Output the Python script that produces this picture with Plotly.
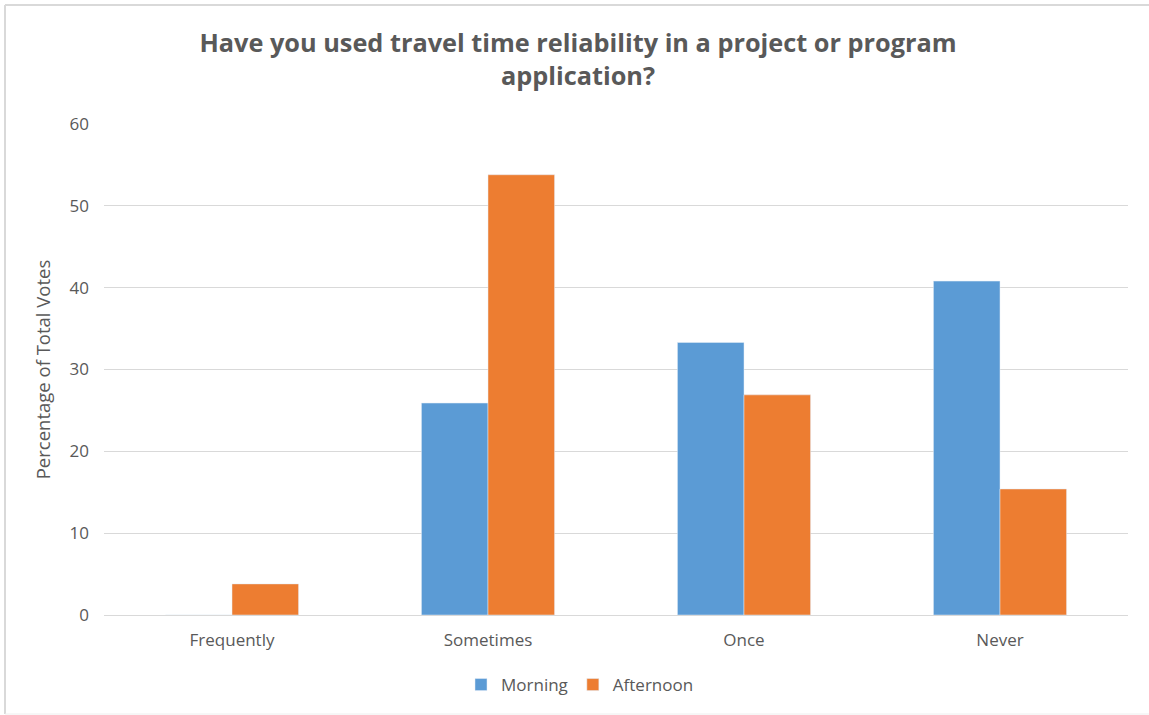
import plotly.graph_objects as go

categories = ["Frequently", "Sometimes", "Once", "Never"]
morning = [0, 25.9, 33.3, 40.8]
afternoon = [3.8, 53.8, 26.9, 15.4]
y_ticks = [0, 10, 20, 30, 40, 50, 60]

W, H = 1149, 715
L, R, T, B = 104, 21, 124, 100
pw, ph = W - L - R, H - T - B

def px_x(p):
    return (p - L) / pw

def px_y(p):
    return (H - B - p) / ph

txt = "#595959"
fnt = "Open Sans, sans-serif"
fig = go.Figure()
fig.add_trace(go.Bar(name="Morning", x=categories, y=morning, marker_color="#5B9BD5"))
fig.add_trace(go.Bar(name="Afternoon", x=categories, y=afternoon, marker_color="#ED7D31"))

fig.update_layout(
    width=W, height=H, autosize=False,
    margin=dict(l=L, r=R, t=T, b=B),
    plot_bgcolor="white", paper_bgcolor="white",
    barmode="group", bargap=0.48, bargroupgap=0,
    font=dict(family=fnt, color=txt, size=17),
    title=dict(
        text="Have you used travel time reliability in a project or program<br>application?",
        x=578 / W, xanchor="center", y=1 - 52 / H, yanchor="middle",
        font=dict(family=fnt, size=25.3, color=txt, weight="bold"),
    ),
    xaxis=dict(showline=True, linecolor="#d9d9d9", linewidth=1, ticks="",
               tickfont=dict(size=17, color=txt), ticklabelstandoff=10),
    yaxis=dict(range=[0, 60], tickvals=y_ticks, showgrid=True, gridcolor="#d9d9d9",
               zeroline=False, ticks="", ticklabelstandoff=14,
               title=dict(text="Percentage of Total Votes", font=dict(size=18.5, color=txt), standoff=14),
               tickfont=dict(size=17, color=txt)),
    legend=dict(orientation="h", x=px_x(580), xanchor="center", y=px_y(685), yanchor="middle",
                font=dict(size=17, color=txt), itemwidth=30, traceorder="normal"),
    showlegend=True,
)

border = dict(color="#d9d9d9", width=2)
fig.add_shape(type="line", xref="paper", yref="paper", layer="below",
              x0=px_x(5), x1=px_x(1149), y0=px_y(5), y1=px_y(5), line=border)
fig.add_shape(type="line", xref="paper", yref="paper", layer="below",
              x0=px_x(5), x1=px_x(5), y0=px_y(5), y1=px_y(714), line=border)
fig.add_shape(type="line", xref="paper", yref="paper", layer="below",
              x0=px_x(5), x1=px_x(1149), y0=px_y(714), y1=px_y(714),
              line=dict(color="#eeeeee", width=1))

fig.write_html("out.html", config={"displayModeBar": False},
               post_script="document.body.style.margin='0';document.body.style.overflow='hidden';")
